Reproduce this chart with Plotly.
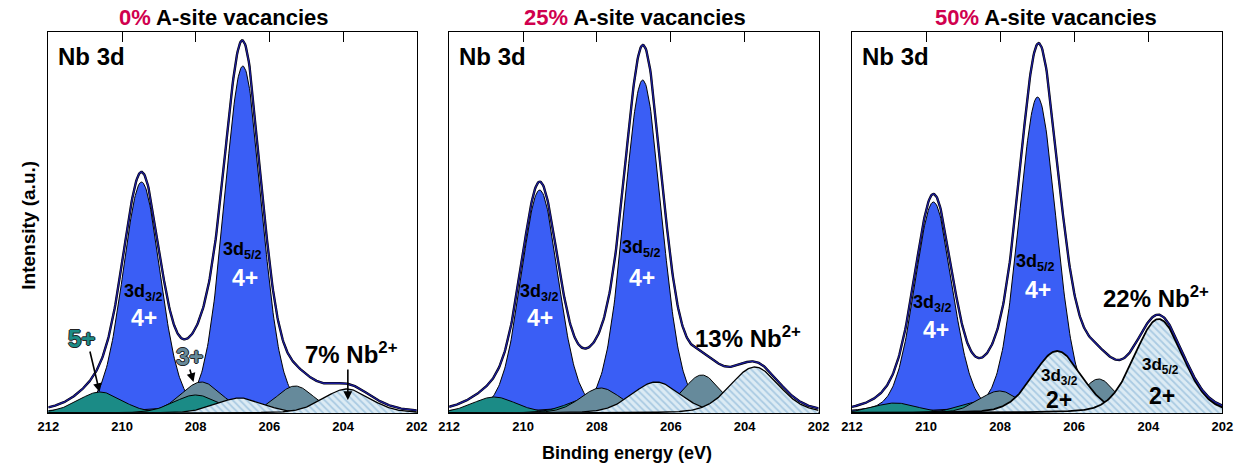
import numpy as np
import plotly.graph_objects as go

# ---------------- data ----------------
VACANCY_LABELS = ["0%", "25%", "50%"]
NB2_SHARE = ["7%", "13%", "22%"]
TICK_VALUES = [212, 210, 208, 206, 204, 202]
TICK_TEXT = ["212", "210", "208", "206", "204", "202"]

# fitted components: centre (eV), height (a.u.), FWHM (eV) -- one row per panel
NB4_CENTER = [[209.47, 206.72], [209.55, 206.76], [209.80, 206.99]]
NB4_HEIGHT = [[231, 347], [223, 333], [211, 316]]
NB4_FWHM = [[1.2, 1.2], [1.2, 1.2], [1.2, 1.2]]

NB5_CENTER = [[210.60, 208.00], [210.78, 208.20], [210.83, 208.45]]
NB5_HEIGHT = [[21, 18], [16, 15], [10, 12]]
NB5_FWHM = [[1.4, 1.4], [1.4, 1.4], [1.4, 1.4]]

NB3_CENTER = [[207.85, 205.30], [207.90, 205.16], [208.02, 205.34]]
NB3_HEIGHT = [[31, 27], [25, 38], [22, 34]]
NB3_FWHM = [[1.3, 1.2], [1.3, 1.2], [1.3, 1.1]]

NB2_CENTER = [[206.80, 203.90], [206.40, 203.73], [206.46, 203.72]]
NB2_HEIGHT = [[15, 24], [31, 46], [62, 94]]
NB2_FWHM = [[1.5, 1.5], [1.55, 1.55], [1.55, 1.55]]

LORENTZ_FRACTION = 0.2
ENERGY = np.linspace(202, 212, 501)  # evaluation grid for the fitted line shapes


def component(c, h, f):
    d = (ENERGY - c) / f
    return h * ((1 - LORENTZ_FRACTION) * np.exp(-4 * np.log(2) * d ** 2)
                + LORENTZ_FRACTION / (1 + 4 * d ** 2))


# ---------------- styles ----------------
C_NB4 = "#3a5ef5"
C_NB5 = "#1b8b86"
C_NB3 = "#668a9b"
C_HATCH_BG = "#dcebf4"
C_HATCH_FG = "#78aad0"
C_DATA = "#1c1c9a"
C_RED = "#d0004e"
FONT = "Liberation Sans, Arial, Helvetica, sans-serif"

W, H = 1253, 472
X_DOM = [(38, 413), (446, 822), (856, 1233)]
Y_TOP, Y_BOT = 32, 413

fig = go.Figure()


def add_fill(y, color, xa, ya, hatch=False, lw=1.0):
    kw = dict(x=ENERGY, y=y, mode="lines", fill="tozeroy",
              line=dict(color="black", width=lw), xaxis=xa, yaxis=ya,
              hoverinfo="skip", showlegend=False)
    if hatch:
        kw["fillcolor"] = C_HATCH_BG
        kw["fillpattern"] = dict(shape="\\", fgcolor=C_HATCH_FG, bgcolor=C_HATCH_BG,
                                 size=5, solidity=0.35)
    else:
        kw["fillcolor"] = color
    fig.add_trace(go.Scatter(**kw))


for i in range(3):
    xa = "x" if i == 0 else f"x{i + 1}"
    ya = "y" if i == 0 else f"y{i + 1}"
    xtop = f"x{i + 4}"
    nb4 = [component(NB4_CENTER[i][k], NB4_HEIGHT[i][k], NB4_FWHM[i][k]) for k in range(2)]
    nb5 = [component(NB5_CENTER[i][k], NB5_HEIGHT[i][k], NB5_FWHM[i][k]) for k in range(2)]
    nb3 = [component(NB3_CENTER[i][k], NB3_HEIGHT[i][k], NB3_FWHM[i][k]) for k in range(2)]
    nb2 = [component(NB2_CENTER[i][k], NB2_HEIGHT[i][k], NB2_FWHM[i][k]) for k in range(2)]
    for y in nb4:
        add_fill(y, C_NB4, xa, ya)
    order = [(nb3, C_NB3), (nb5, C_NB5)] if i == 0 else [(nb5, C_NB5), (nb3, C_NB3)]
    for comps, col in order:
        for y in comps:
            add_fill(y, col, xa, ya)
    for y in nb2:
        add_fill(y, None, xa, ya, hatch=True, lw=1.3 if i < 2 else 1.8)
    envelope = sum(nb4) + sum(nb5) + sum(nb3) + sum(nb2)
    fig.add_trace(go.Scatter(x=ENERGY, y=envelope, mode="lines",
                             line=dict(color="black", width=2.4), xaxis=xtop, yaxis=ya,
                             hoverinfo="skip", showlegend=False))
    fig.add_trace(go.Scatter(x=ENERGY, y=envelope, mode="lines",
                             line=dict(color=C_DATA, width=1.3), xaxis=xtop, yaxis=ya,
                             hoverinfo="skip", showlegend=False))

layout = dict(width=W, height=H, margin=dict(l=0, r=0, t=0, b=0),
              paper_bgcolor="white", plot_bgcolor="white", showlegend=False,
              font=dict(family=FONT, color="black"))
for i in range(3):
    sfx = "" if i == 0 else str(i + 1)
    dom = [X_DOM[i][0] / W, X_DOM[i][1] / W]
    layout["xaxis" + sfx] = dict(
        domain=dom, range=[212, 202], anchor="y" + sfx,
        tickmode="array", tickvals=TICK_VALUES, ticktext=TICK_TEXT, ticks="",
        tickfont=dict(size=13, weight="bold", family=FONT), ticklabelstandoff=1,
        showline=True, mirror=True, linecolor="black", linewidth=1.3,
        showgrid=False, zeroline=False)
    layout[f"xaxis{i + 4}"] = dict(
        domain=dom, range=[212, 202], anchor="y" + sfx, overlaying="x" + sfx, side="top",
        tickmode="array", tickvals=TICK_VALUES[1:-1], ticks="inside", ticklen=10,
        tickwidth=1.2, tickcolor="black", showticklabels=False, showline=False,
        showgrid=False, zeroline=False)
    layout["yaxis" + sfx] = dict(
        domain=[(H - Y_BOT) / H, (H - Y_TOP) / H], range=[0, 381], anchor="x" + sfx,
        showline=True, mirror=True, linecolor="black", linewidth=1.3, ticks="",
        showticklabels=False, showgrid=False, zeroline=False)
fig.update_layout(**layout)

ann = []


def txt(x, y, text, size, color="black", ref=0, shadow=None, paper=False, **kw):
    f = dict(size=size, color=color, family=FONT, weight="bold")
    if shadow:
        f["shadow"] = shadow
    if paper:
        xr, yr = "paper", "paper"
    else:
        xr = "x" if ref == 0 else f"x{ref + 1}"
        yr = "y" if ref == 0 else f"y{ref + 1}"
    d = dict(x=x, y=y, xref=xr, yref=yr, text=text, showarrow=False, font=f,
             xanchor="center", yanchor="middle")
    d.update(kw)
    ann.append(d)


def arrow(ref, x0, y0, x1, y1):
    xr = "x" if ref == 0 else f"x{ref + 1}"
    yr = "y" if ref == 0 else f"y{ref + 1}"
    ann.append(dict(x=x1, y=y1, ax=x0, ay=y0, xref=xr, yref=yr, axref=xr, ayref=yr,
                    text="", showarrow=True, arrowhead=2, arrowsize=1.1, arrowwidth=1.6,
                    arrowcolor="black", standoff=0))


# titles
TITLE_X = [217, 635, 1053]
for i in range(3):
    txt(TITLE_X[i] / W, (H - 17) / H,
        f"<span style='color:{C_RED}'>{VACANCY_LABELS[i]}</span> A-site vacancies", 22,
        paper=True)
    txt((X_DOM[i][0] + 8) / W, (H - 56) / H, "Nb 3d", 24, paper=True, xanchor="left")

txt(18 / W, (H - 225) / H, "Intensity (a.u.)", 19, paper=True, textangle=-90)
txt(627 / W, (H - 453) / H, "Binding energy (eV)", 18, paper=True)

OUTLINE = "1px 0 0 #222, -1px 0 0 #222, 0 1px 0 #222, 0 -1px 0 #222"
# panel 1
txt(209.41, 121, "3d<sub>3/2</sub>", 18, ref=0)
txt(209.41, 95, "4+", 23, color="white", ref=0)
txt(206.72, 163, "3d<sub>5/2</sub>", 18, ref=0)
txt(206.67, 135, "4+", 23, color="white", ref=0)
txt(211.09, 75, "5+", 24, color=C_NB5, ref=0, shadow=OUTLINE)
txt(208.16, 57, "3+", 24, color=C_NB3, ref=0, shadow=OUTLINE)
txt(203.76, 60, f"{NB2_SHARE[0]} Nb<sup>2+</sup>", 24, ref=0)
arrow(0, 210.88, 63, 210.61, 21)
arrow(0, 208.17, 45, 208.06, 31)
arrow(0, 203.87, 45, 203.87, 13)
# panel 2
txt(209.55, 121, "3d<sub>3/2</sub>", 18, ref=1)
txt(209.55, 95, "4+", 23, color="white", ref=1)
txt(206.79, 165, "3d<sub>5/2</sub>", 18, ref=1)
txt(206.78, 135, "4+", 23, color="white", ref=1)
txt(203.91, 76, f"{NB2_SHARE[1]} Nb<sup>2+</sup>", 24, ref=1)
# panel 3
txt(209.82, 110, "3d<sub>3/2</sub>", 18, ref=2)
txt(209.72, 83, "4+", 23, color="white", ref=2)
txt(207.04, 151, "3d<sub>5/2</sub>", 18, ref=2)
txt(206.99, 123, "4+", 23, color="white", ref=2)
txt(203.80, 116, f"{NB2_SHARE[2]} Nb<sup>2+</sup>", 24, ref=2)
txt(206.40, 36, "3d<sub>3/2</sub>", 17, ref=2)
txt(206.40, 13, "2+", 23, ref=2)
txt(203.67, 47, "3d<sub>5/2</sub>", 17, ref=2)
txt(203.62, 17, "2+", 23, ref=2)

fig.update_layout(annotations=ann)
fig.write_html("out.html")
